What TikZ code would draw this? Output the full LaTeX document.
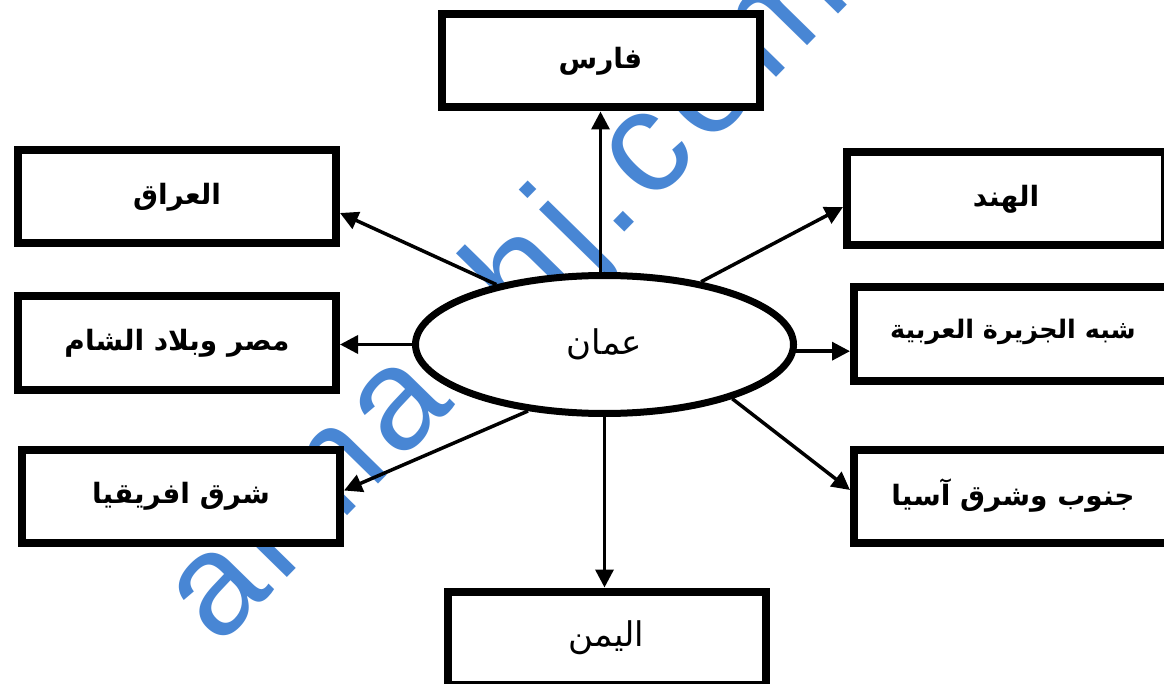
\documentclass[tikz,border=0pt]{standalone}
\usepackage{fontspec}
\usetikzlibrary{shapes.geometric,arrows.meta,calc}
\TeXXeTstate=1
\newfontfamily\arabicfont[Script=Arabic]{DejaVu Sans}
\newfontfamily\wmfont[LetterSpace=6]{Liberation Sans}
\definecolor{wmblue}{RGB}{72,134,212}
\tikzset{
  box/.style={draw, line width=8pt, fill=white, minimum width=318pt, minimum height=93pt, inner sep=0pt,
    font=\arabicfont\bfseries\fontsize{28}{32}\selectfont},
  plainbox/.style={box, font=\arabicfont\fontsize{34}{38}\selectfont},
  centre/.style={ellipse, draw, line width=7pt, fill=white, minimum width=378pt, minimum height=138pt, inner sep=0pt,
    font=\arabicfont\fontsize{34}{38}\selectfont},
  arr/.style={line width=3.5pt, -{Triangle[length=18pt,width=18pt]}},
  watermark/.style={font=\wmfont\fontsize{145}{145}\selectfont, text=wmblue, rotate=45.6, anchor=base west, inner sep=0pt}
}
\begin{document}
\begin{tikzpicture}[x=1pt,y=-1pt]
\path[use as bounding box] (0,0) rectangle (1164,684);
\clip (0,0) rectangle (1164,684);
\fill[white] (0,0) rectangle (1164,684);
\node[watermark] (wm) at (218,648) {almanhj.com};

\node[box] (fars) at (600.5,61) {\beginR فارس\endR};
\node[box] (iraq) at (177,197) {\beginR العراق\endR};
\node[box] (misr) at (177,343) {\beginR مصر وبلاد الشام\endR};
\node[box] (afr) at (181,496.5) {\beginR شرق افريقيا\endR};
\node[box] (hind) at (1006,199) {\beginR الهند\endR};
\node[box] (jaz) at (1013,334) {\fontsize{25.5}{30}\selectfont\raisebox{10pt}{\beginR شبه الجزيرة العربية\endR}};
\node[box] (asia) at (1013,496) {\beginR جنوب وشرق آسيا\endR};
\node[plainbox] (yemen) at (606.5,638) {\beginR اليمن\endR};
\node[centre] (oman) at (604.5,344.5) {\beginR عمان\endR};

\draw[arr] (fars.south |- oman.north) -- (fars.south);
\draw[arr] (oman.151) -- ($(iraq.east)+(0,16)$);
\draw[arr] (oman.33) -- ($(hind.west)+(0,8)$);
\draw[arr] (oman.west) -- (oman.west -| misr.east);
\draw[arr] (oman.-2) -- (oman.-2 -| jaz.west);
\draw[arr] (oman.221) -- ($(afr.east)+(0,-6)$);
\draw[arr] (oman.-23) -- ($(asia.west)+(0,-6)$);
\draw[arr] (oman.south) -- (oman.south |- yemen.north);
\end{tikzpicture}
\end{document}
